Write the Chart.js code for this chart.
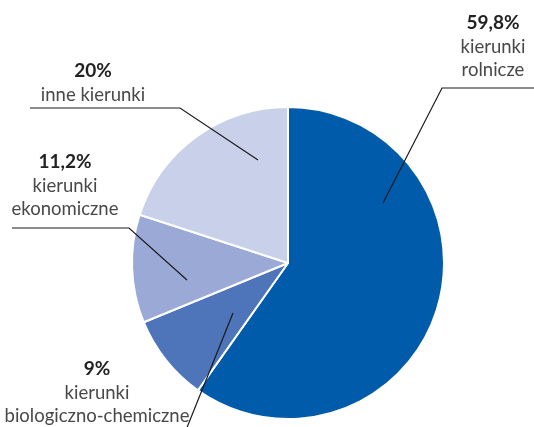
<!DOCTYPE html>
<html><head><meta charset="utf-8">
<script src="https://cdn.jsdelivr.net/npm/chart.js@4/dist/chart.umd.min.js"></script>
<style>html,body{margin:0;padding:0;background:#fff}#wrap{width:534px;height:427px;position:relative}</style>
</head><body><div id="wrap"><canvas id="c" width="534" height="427"></canvas></div>
<script>
const categories = ["kierunki rolnicze", "kierunki biologiczno-chemiczne", "kierunki ekonomiczne", "inne kierunki"];
const shares = [59.8, 9, 11.2, 20];
const shareLabels = ["59,8%", "9%", "11,2%", "20%"];
const labelLines = [["kierunki", "rolnicze"], ["kierunki", "biologiczno-chemiczne"], ["kierunki", "ekonomiczne"], ["inne kierunki"]];
const colors = ["#005baa", "#4e74b9", "#9aa9d6", "#c9d1ea"];

// annotation layout (text anchor baseline & leader line)
const annot = [
  {x: 493, y: 29, line: [[383, 203], [442, 88], [534, 88]]},
  {x: 97, y: 375, line: [[233, 313], [186, 430]]},
  {x: 65, y: 168, line: [[187, 280], [129, 228], [12, 228]]},
  {x: 93, y: 77, line: [[258, 160], [180, 108], [30, 108]]}
];

const labelPlugin = {
  id: 'labels',
  afterDatasetsDraw(chart) {
    const ctx = chart.ctx;
    ctx.save();
    annot.forEach((a, i) => {
      ctx.beginPath();
      a.line.forEach((p, j) => j ? ctx.lineTo(p[0], p[1]) : ctx.moveTo(p[0], p[1]));
      ctx.strokeStyle = '#1a1a1a';
      ctx.lineWidth = 1.2;
      ctx.stroke();
      ctx.textAlign = 'center';
      ctx.textBaseline = 'alphabetic';
      ctx.fillStyle = '#222';
      ctx.font = 'bold 19px Lato';
      ctx.fillText(shareLabels[i], a.x, a.y);
      ctx.fillStyle = '#484848';
      ctx.font = '18.5px Lato';
      labelLines[i].forEach((t, k) => ctx.fillText(t, a.x, a.y + 23.5 * (k + 1)));
    });
    ctx.restore();
  }
};

new Chart(document.getElementById('c'), {
  type: 'pie',
  data: {
    labels: categories,
    datasets: [{data: shares, backgroundColor: colors, borderColor: '#ffffff', borderWidth: 2}]
  },
  options: {
    responsive: false,
    animation: false,
    layout: {padding: {top: 106, bottom: 7, left: 131, right: 89}},
    plugins: {legend: {display: false}, tooltip: {enabled: false}}
  },
  plugins: [labelPlugin]
});
</script></body></html>
